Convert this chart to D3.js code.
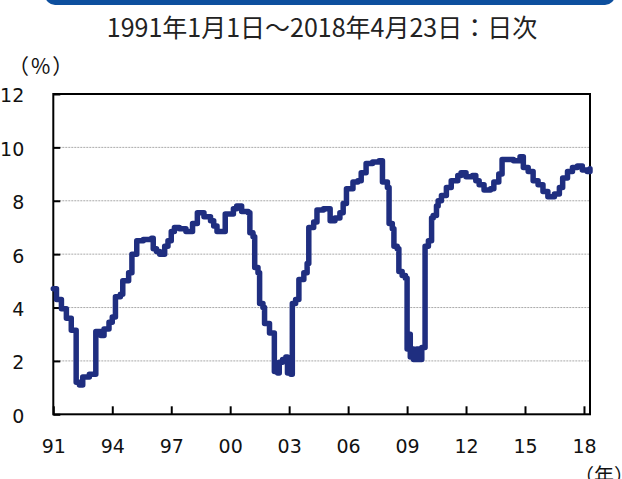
<!DOCTYPE html>
<html>
<head>
<meta charset="utf-8">
<script src="https://cdn.jsdelivr.net/npm/d3@7"></script>
<style>
  body { margin: 0; background: #fff; }
  svg { display: block; }
</style>
</head>
<body>
<script>
// step levels: date the level starts, value in %
const dates = [
  '1991-01-01', '1991-03-01', '1991-06-01', '1991-09-01', '1991-12-01',
  '1992-03-01', '1992-05-01', '1992-07-01', '1992-11-01',
  '1993-03-01', '1993-06-01', '1993-08-01', '1993-11-01',
  '1994-01-01', '1994-03-01', '1994-06-01', '1994-07-15', '1994-11-01',
  '1995-01-01', '1995-04-01', '1995-08-01',
  '1996-01-01', '1996-02-01', '1996-04-01', '1996-06-01', '1996-09-01', '1996-11-01',
  '1997-01-01', '1997-03-01', '1997-06-01', '1997-10-01',
  '1998-02-01', '1998-05-01', '1998-09-01',
  '1999-01-01', '1999-03-01', '1999-05-01', '1999-10-01',
  '2000-03-01', '2000-05-01', '2000-08-01', '2000-12-01',
  '2001-01-01', '2001-03-01', '2001-04-01', '2001-06-01', '2001-07-01', '2001-09-01', '2001-10-01',
  '2002-01-01', '2002-04-01', '2002-06-01', '2002-07-01', '2002-09-01', '2002-11-01', '2002-12-01',
  '2003-02-01', '2003-03-01', '2003-05-01', '2003-07-01', '2003-10-01', '2003-12-01',
  '2004-01-01', '2004-04-01', '2004-06-01', '2004-10-01',
  '2005-02-01', '2005-05-01', '2005-08-01', '2005-10-01', '2005-12-01',
  '2006-04-01', '2006-07-01', '2006-09-01', '2006-12-01',
  '2007-04-01', '2007-08-01', '2007-10-01',
  '2008-01-01', '2008-02-01', '2008-04-01', '2008-05-01', '2008-07-01', '2008-08-01', '2008-10-01', '2008-12-01',
  '2009-01-01', '2009-02-01', '2009-03-01', '2009-04-01', '2009-05-01', '2009-07-01', '2009-08-01', '2009-10-01', '2009-12-01',
  '2010-02-01', '2010-04-01', '2010-05-01', '2010-07-01', '2010-08-01', '2010-10-01',
  '2011-01-01', '2011-04-01', '2011-08-01', '2011-10-01',
  '2012-01-01', '2012-05-01', '2012-07-01', '2012-09-01', '2012-12-01',
  '2013-04-01', '2013-06-01', '2013-09-01', '2013-11-01',
  '2014-06-01', '2014-10-01', '2014-12-01',
  '2015-03-01', '2015-06-01', '2015-09-01', '2015-12-01',
  '2016-03-01', '2016-07-01', '2016-10-01', '2016-12-01',
  '2017-03-01', '2017-06-01', '2017-09-01', '2017-12-01',
  '2018-03-01', '2018-04-23',
];
const values = [
  4.7, 4.3, 3.95, 3.6, 3.15,
  1.2, 1.1, 1.4, 1.5,
  3.1, 2.95, 3.2, 3.45,
  3.65, 4.4, 4.5, 5.0, 5.3,
  6.0, 6.5, 6.55,
  6.6, 6.2, 6.1, 6.0, 6.3, 6.5,
  6.85, 7.0, 6.95, 6.85,
  7.15, 7.55, 7.4,
  7.25, 7.05, 6.85, 7.5,
  7.7, 7.8, 7.6, 7.55,
  6.8, 6.65, 5.5, 5.3, 4.15, 4.0, 3.4,
  3.05, 1.6, 1.55, 1.95, 2.05, 2.15, 1.55,
  1.5, 4.15, 4.3, 5.05, 5.3, 5.65,
  7.0, 7.2, 7.65, 7.7,
  7.25, 7.35, 7.55, 7.9, 8.45,
  8.7, 8.75, 9.05, 9.4,
  9.45, 9.5, 8.7,
  8.5, 7.15, 6.95, 6.3, 6.2, 5.35, 5.2, 5.1,
  2.45, 3.0, 2.15, 2.45, 2.05, 2.45, 2.05, 2.5, 6.3,
  6.5, 7.35, 7.45, 7.8, 8.0, 8.2,
  8.5, 8.75, 8.95, 9.05,
  8.9, 8.95, 8.75, 8.6, 8.4,
  8.45, 8.7, 9.0, 9.55,
  9.5, 9.65, 9.25,
  9.1, 8.75, 8.6, 8.35,
  8.15, 8.25, 8.5, 8.85,
  9.1, 9.25, 9.3, 9.15,
  9.1, 9.2,
];

const yTicks = [0, 2, 4, 6, 8, 10, 12];
const xTickYears = [1991, 1994, 1997, 2000, 2003, 2006, 2009, 2012, 2015, 2018];
const title = '1991年1月1日～2018年4月23日：日次';
const yUnit = '（%）';
const xUnit = '（年）';

const W = 622;
const H = 479;
const plot = { left: 53.3, right: 590, top: 94, bottom: 414.3 };

const parse = d3.timeParse('%Y-%m-%d');
const data = dates.map((d, i) => ({ date: parse(d), value: values[i] }));

const svg = d3.select('body').append('svg')
  .attr('width', W)
  .attr('height', H);

// blue header bar, mostly cropped off the top
svg.append('rect')
  .attr('x', 45)
  .attr('y', -20)
  .attr('width', 570)
  .attr('height', 25)
  .attr('rx', 10)
  .attr('fill', '#0d4f9e');

svg.append('text')
  .attr('x', 322)
  .attr('y', 37)
  .attr('text-anchor', 'middle')
  .style('font-family', '"Noto Sans CJK JP", sans-serif')
  .style('font-size', '25px')
  .attr('fill', '#222')
  .text(title);

const x = d3.scaleTime()
  .domain([parse('1991-01-01'), parse('2018-04-23')])
  .range([plot.left, plot.right]);

const y = d3.scaleLinear()
  .domain([0, 12])
  .range([plot.bottom, plot.top]);

// gridlines
svg.append('g')
  .selectAll('line')
  .data(yTicks.filter((t) => t > 0 && t < 12))
  .join('line')
  .attr('x1', plot.left)
  .attr('x2', plot.right)
  .attr('y1', (d) => y(d))
  .attr('y2', (d) => y(d))
  .attr('stroke', '#aaa')
  .attr('stroke-width', 1)
  .attr('stroke-dasharray', '2,1');

const yAxis = d3.axisLeft(y)
  .tickValues(yTicks)
  .tickSize(-7)
  .tickPadding(29)
  .tickFormat(d3.format('d'));

svg.append('g')
  .attr('transform', `translate(${plot.left},0)`)
  .call(yAxis)
  .call((g) => g.select('.domain').remove())
  .call((g) => g.selectAll('line').attr('stroke', '#000').attr('stroke-width', 2))
  .call((g) => g.selectAll('text')
    .attr('dy', '0.42em')
    .attr('fill', '#111')
    .style('font-family', '"DejaVu Sans", sans-serif')
    .style('font-size', '19px'));

const xAxis = d3.axisBottom(x)
  .tickValues(xTickYears.map((yr) => new Date(yr, 0, 1)))
  .tickSize(-8)
  .tickPadding(25)
  .tickFormat(d3.timeFormat('%y'));

svg.append('g')
  .attr('transform', `translate(0,${plot.bottom})`)
  .call(xAxis)
  .call((g) => g.select('.domain').remove())
  .call((g) => g.selectAll('line').attr('stroke', '#000').attr('stroke-width', 2))
  .call((g) => g.selectAll('text')
    .attr('y', 25)
    .attr('dy', '0.71em')
    .attr('fill', '#111')
    .style('font-family', '"DejaVu Sans", sans-serif')
    .style('font-size', '19px'));

// frame
svg.append('rect')
  .attr('x', plot.left)
  .attr('y', plot.top)
  .attr('width', plot.right - plot.left)
  .attr('height', plot.bottom - plot.top)
  .attr('fill', 'none')
  .attr('stroke', '#000')
  .attr('stroke-width', 2);

const line = d3.line()
  .x((d) => x(d.date))
  .y((d) => y(d.value))
  .curve(d3.curveStepAfter);

svg.append('path')
  .datum(data)
  .attr('d', line)
  .attr('fill', 'none')
  .attr('stroke', '#1f2e80')
  .attr('stroke-width', 5.5)
  .attr('stroke-linejoin', 'round')
  .attr('stroke-linecap', 'round');

svg.append('text')
  .attr('x', 8)
  .attr('y', 74)
  .style('font-family', '"Noto Sans CJK JP", sans-serif')
  .style('font-size', '21px')
  .style('letter-spacing', '2px')
  .attr('fill', '#111')
  .text(yUnit);

svg.append('text')
  .attr('x', 574)
  .attr('y', 483)
  .style('font-family', '"Noto Sans CJK JP", sans-serif')
  .style('font-size', '20px')
  .attr('fill', '#111')
  .text(xUnit);
</script>
</body>
</html>
